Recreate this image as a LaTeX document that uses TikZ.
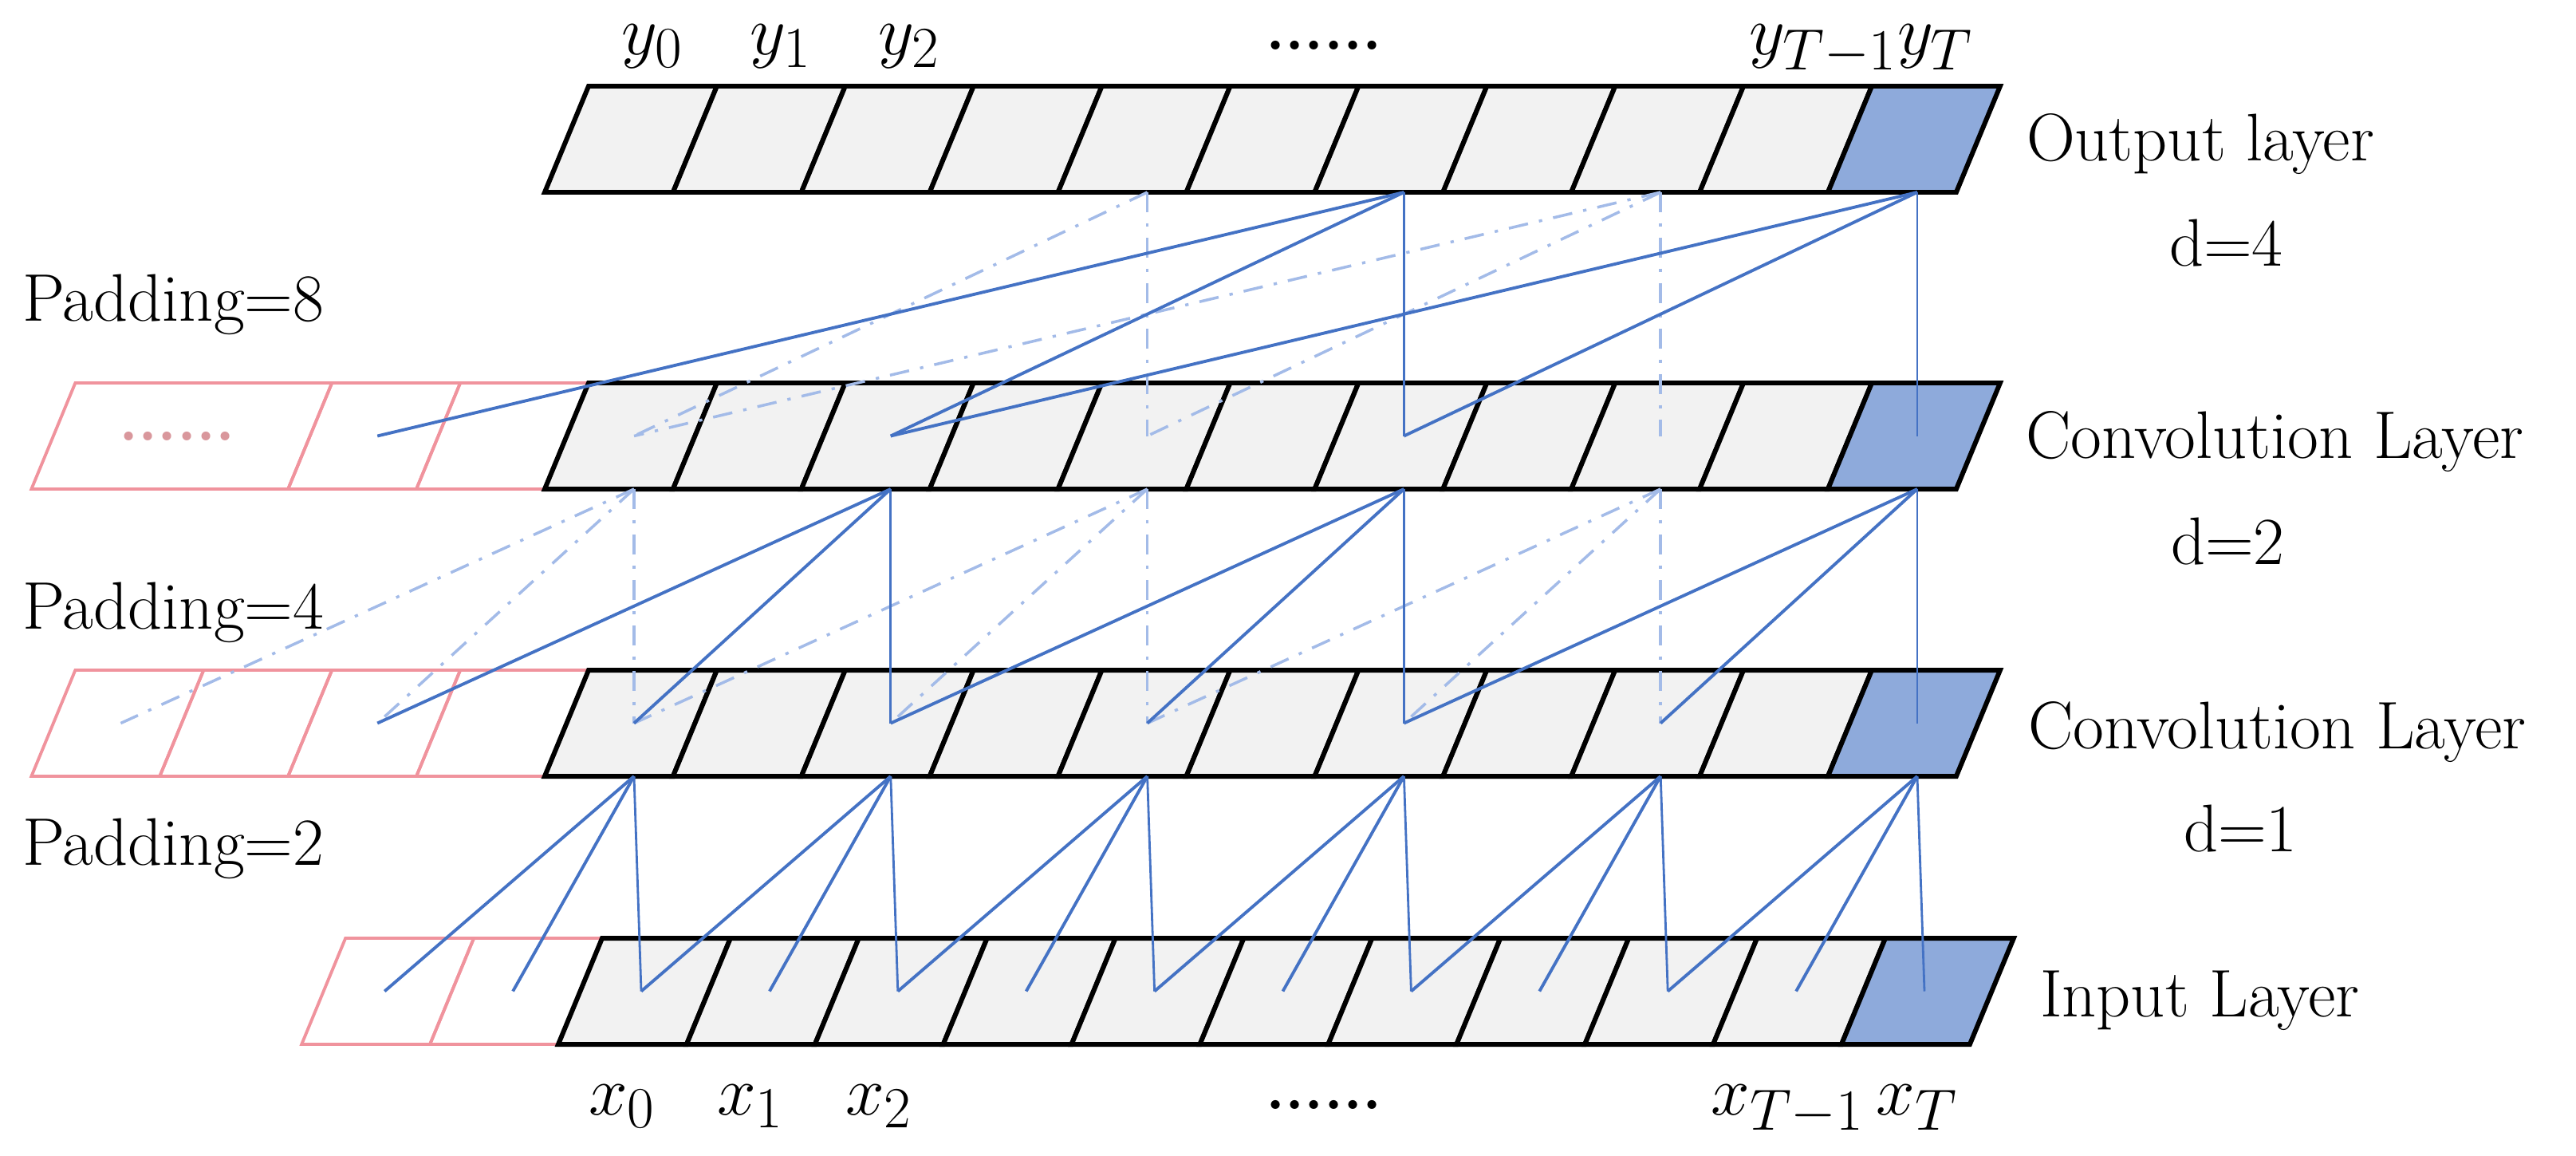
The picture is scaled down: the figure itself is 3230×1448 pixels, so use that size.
\documentclass[tikz,border=0pt]{standalone}
\definecolor{cellgray}{HTML}{F2F2F2}
\definecolor{cellblue}{HTML}{8EAADB}
\definecolor{linkblue}{HTML}{4472C4}
\definecolor{ghostblue}{HTML}{A3BBE8}
\definecolor{padpink}{HTML}{F0939D}
\definecolor{dotpink}{HTML}{D9979C}
\tikzset{
  cell/.style={draw=black, line width=1.7pt, fill=cellgray},
  lastcell/.style={draw=black, line width=1.7pt, fill=cellblue},
  padcell/.style={draw=padpink, line width=1.1pt},
  conn/.style={draw=linkblue, line width=1.1pt},
  connv/.style={draw=linkblue, line width=0.8pt},
  ghost/.style={draw=ghostblue, line width=1pt, dash pattern=on 7pt off 4pt on 1.2pt off 4pt},
  lbl/.style={font=\fontsize{24}{29}\selectfont, inner sep=0pt, outer sep=0pt},
  mlbl/.style={font=\fontsize{24.88}{30}\selectfont, inner sep=0pt, outer sep=0pt},
  dots/.style={font=\fontsize{22}{26}\selectfont\bfseries, inner sep=0pt, outer sep=0pt},
}
\begin{document}
\begin{tikzpicture}[x=0.01cm, y=-0.01cm]
\useasboundingbox (0,0) rectangle (3230,1448);

% ---------- padding cells (pink) ----------
\path[padcell] ({738-4*160.9},480) -- ({738-2*160.9},480) -- ({738-2*160.9-55},613) -- ({738-4*160.9-55},613) -- cycle;
\foreach \i in {-2,-1} {
  \pgfmathsetmacro\xl{738+160.9*\i}
  \pgfmathsetmacro\xr{\xl+160.9}
  \path[padcell] (\xl,480) -- (\xr,480) -- ({\xr-55},613) -- ({\xl-55},613) -- cycle;
}
\foreach \i in {-4,...,-1} {
  \pgfmathsetmacro\xl{738+160.9*\i}
  \pgfmathsetmacro\xr{\xl+160.9}
  \path[padcell] (\xl,840) -- (\xr,840) -- ({\xr-55},973) -- ({\xl-55},973) -- cycle;
}
\foreach \i in {-2,-1} {
  \pgfmathsetmacro\xl{755+160.9*\i}
  \pgfmathsetmacro\xr{\xl+160.9}
  \path[padcell] (\xl,1176) -- (\xr,1176) -- ({\xr-55},1309) -- ({\xl-55},1309) -- cycle;
}
\node[dots, text=dotpink] (paddots) at (222,547) {......};

% ---------- layer cells ----------
\foreach \tp/\bt/\sh in {108/241/0, 480/613/0, 840/973/0, 1176/1309/17} {
  \foreach \i in {0,...,9} {
    \pgfmathsetmacro\xl{738+160.9*\i+\sh}
    \pgfmathsetmacro\xr{\xl+160.9}
    \path[cell] (\xl,\tp) -- (\xr,\tp) -- ({\xr-55},\bt) -- ({\xl-55},\bt) -- cycle;
  }
  \pgfmathsetmacro\xl{738+160.9*10+\sh}
  \pgfmathsetmacro\xr{\xl+160.9}
  \path[lastcell] (\xl,\tp) -- (\xr,\tp) -- ({\xr-55},\bt) -- ({\xl-55},\bt) -- cycle;
}

% ---------- anchor coordinates (cell centres and bottom points) ----------
\foreach \r/\tp/\bt/\cs in {out/108/241/0, cA/480/613/0, cB/840/973/0, in/1176/1309/9} {
  \pgfmathsetmacro\my{(\tp+\bt)/2}
  \foreach \i in {-4,...,10} {
    \pgfmathsetmacro\cx{795+160.9*\i+\cs}
    \coordinate (\r-c\i) at (\cx,\my);
    \coordinate (\r-b\i) at (\cx,\bt);
  }
}

% ---------- connections: output -> conv (d=4) ----------
\foreach \s/\t in {4/0, 8/0, 8/4} \draw[ghost] (out-b\s) -- (cA-c\t);
\foreach \s in {4,8} \draw[ghost] (out-b\s) -- (cA-c\s);
\foreach \s/\t in {6/-2, 6/2, 10/2, 10/6} \draw[conn] (out-b\s) -- (cA-c\t);
\foreach \s in {6,10} \draw[connv] (out-b\s) -- (cA-c\s);

% ---------- connections: conv (d=2) -> conv (d=1) ----------
\foreach \s in {0,4,8} {
  \pgfmathtruncatemacro\a{\s-4}
  \pgfmathtruncatemacro\b{\s-2}
  \draw[ghost] (cA-b\s) -- (cB-c\a);
  \draw[ghost] (cA-b\s) -- (cB-c\b);
  \draw[ghost] (cA-b\s) -- (cB-c\s);
}
\foreach \s in {2,6,10} {
  \pgfmathtruncatemacro\a{\s-4}
  \pgfmathtruncatemacro\b{\s-2}
  \draw[conn] (cA-b\s) -- (cB-c\a);
  \draw[conn] (cA-b\s) -- (cB-c\b);
  \draw[connv] (cA-b\s) -- (cB-c\s);
}

% ---------- connections: conv (d=1) -> input ----------
\foreach \s in {0,2,...,10} {
  \pgfmathtruncatemacro\a{\s-2}
  \pgfmathtruncatemacro\b{\s-1}
  \draw[conn] (cB-b\s) -- (in-c\a);
  \draw[conn] (cB-b\s) -- (in-c\b);
  \draw[connv] (cB-b\s) -- (in-c\s);
}

% ---------- labels ----------
\node[mlbl, anchor=base] (y0) at (818,68) {$y_0$};
\node[mlbl, anchor=base] (y1) at (979,68) {$y_1$};
\node[mlbl, anchor=base] (y2) at (1140,68) {$y_2$};
\node[dots, anchor=base] (ydots) at (1660,62) {......};
\node[mlbl, anchor=base] (yT) at (2334,68) {$y_{T-1}y_T$};

\node[mlbl, anchor=base] (x0) at (780,1397) {$x_0$};
\node[mlbl, anchor=base] (x1) at (941,1397) {$x_1$};
\node[mlbl, anchor=base] (x2) at (1102,1397) {$x_2$};
\node[dots, anchor=base] (xdots) at (1660,1390) {......};
\node[mlbl, anchor=base] (xT) at (2300,1397) {$x_{T-1}\,x_T$};

\node[lbl, anchor=base west] (lout) at (2541,201) {Output layer};
\node[lbl, anchor=base west] (lcA) at (2540,574) {Convolution Layer};
\node[lbl, anchor=base west] (lcB) at (2543,938) {Convolution Layer};
\node[lbl, anchor=base west] (lin) at (2558,1274) {Input Layer};

\node[lbl, anchor=base west] (d4) at (2720,333) {d=4};
\node[lbl, anchor=base west] (d2) at (2722,707) {d=2};
\node[lbl, anchor=base west] (d1) at (2738,1067) {d=1};

\node[lbl, anchor=base west] (p8) at (28,402) {Padding=8};
\node[lbl, anchor=base west] (p4) at (28,788) {Padding=4};
\node[lbl, anchor=base west] (p2) at (28,1084) {Padding=2};
\end{tikzpicture}
\end{document}
